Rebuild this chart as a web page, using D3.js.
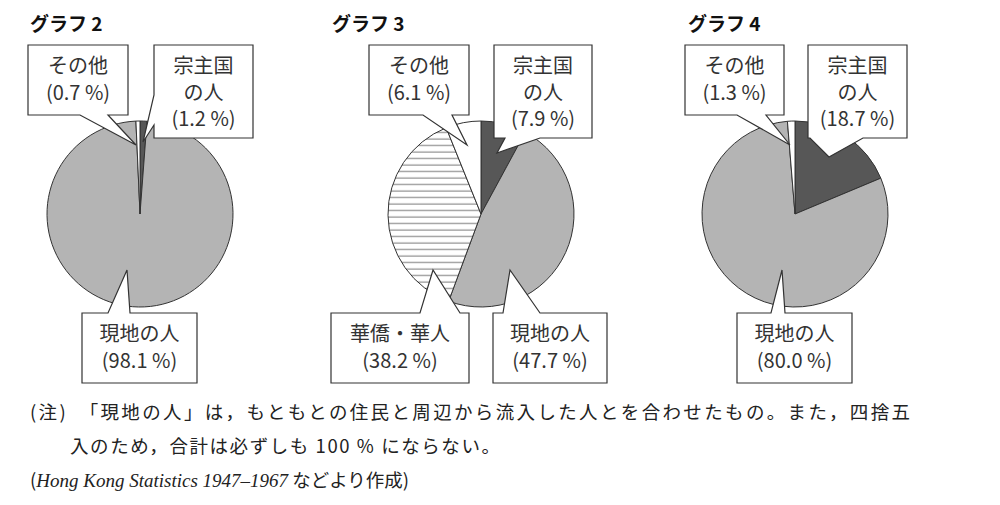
<!DOCTYPE html>
<html><head><meta charset="utf-8">
<script src="https://d3js.org/d3.v7.min.js"></script>
<style>body{margin:0;background:#fff}</style>
</head><body><svg id="c" width="1000" height="505"></svg>
<script>
// ---------- data
var titles = ['グラフ 2', 'グラフ 3', 'グラフ 4'];
var groups = ['宗主国の人', '現地の人', '華僑・華人', 'その他'];
var values2 = [1.2, 98.1, 0, 0.7];
var values3 = [7.9, 47.7, 38.2, 6.1];
var values4 = [18.7, 80.0, 0, 1.3];
var noteLines = [
  '(注)\u3000「現地の人」は，もともとの住民と周辺から流入した人とを合わせたもの。また，四捨五',
  '入のため，合計は必ずしも 100 % にならない。'
];

// ---------- layout
var svg = d3.select('#c');
var jp = '"Noto Sans CJK JP", sans-serif';
var fills = ['#575757', '#b4b4b4', 'url(#stripes)', '#ffffff'];

var pat = svg.append('defs').append('pattern')
  .attr('id', 'stripes').attr('patternUnits', 'userSpaceOnUse')
  .attr('width', 8).attr('height', 6.5);
pat.append('rect').attr('width', 8).attr('height', 6.5).attr('fill', '#fff');
pat.append('line').attr('x1', 0).attr('x2', 8).attr('y1', 3).attr('y2', 3)
  .attr('stroke', '#777').attr('stroke-width', 1);

var charts = [
  { values: values2, cx: 140, cy: 214, tx: 30,
    calls: [
      { g: 3, box: [28, 45, 128, 115], side: 'bottom', b: [80, 108], tip: [136, 145], lines: ['その他', '(0.7 %)'] },
      { g: 0, box: [154, 45, 253, 138], side: 'left', b: [95, 125], tip: [143, 142], lines: ['宗主国', 'の人', '(1.2 %)'] },
      { g: 1, box: [82, 313, 197, 383], side: 'top', b: [108, 130], tip: [127, 270], lines: ['現地の人', '(98.1 %)'] }
    ] },
  { values: values3, cx: 481, cy: 214, tx: 332,
    calls: [
      { g: 3, box: [369, 45, 469, 115], side: 'bottom', b: [423, 452], tip: [467, 145], lines: ['その他', '(6.1 %)'] },
      { g: 0, box: [494, 45, 592, 138], side: 'bottom', b: [505, 540], tip: [497, 153], lines: ['宗主国', 'の人', '(7.9 %)'] },
      { g: 2, box: [331, 313, 469, 383], side: 'top', b: [420, 460], tip: [433, 270], lines: ['華僑・華人', '(38.2 %)'] },
      { g: 1, box: [493, 313, 607, 383], side: 'top', b: [503, 540], tip: [510, 270], lines: ['現地の人', '(47.7 %)'] }
    ] },
  { values: values4, cx: 795, cy: 214, tx: 688,
    calls: [
      { g: 3, box: [685, 45, 784, 115], side: 'bottom', b: [737, 766], tip: [790, 145], lines: ['その他', '(1.3 %)'] },
      { g: 0, box: [808, 45, 907, 138], side: 'bottom', b: [810, 863], tip: [829, 157], lines: ['宗主国', 'の人', '(18.7 %)'] },
      { g: 1, box: [737, 313, 852, 383], side: 'top', b: [771, 785], tip: [782, 270], lines: ['現地の人', '(80.0 %)'] }
    ] }
];

var radius = 93;
var pie = d3.pie().sort(null).value(function(d) { return d; });
var arc = d3.arc().innerRadius(0).outerRadius(radius);

function calloutPath(c) {
  var x0 = c.box[0], y0 = c.box[1], x1 = c.box[2], y1 = c.box[3];
  var p;
  if (c.side === 'top') {
    p = [[x0, y0], [c.b[0], y0], c.tip, [c.b[1], y0], [x1, y0], [x1, y1], [x0, y1]];
  } else if (c.side === 'bottom') {
    p = [[x0, y0], [x1, y0], [x1, y1], [c.b[1], y1], c.tip, [c.b[0], y1], [x0, y1]];
  } else {
    p = [[x0, y0], [x1, y0], [x1, y1], [x0, y1], [x0, c.b[1]], c.tip, [x0, c.b[0]]];
  }
  return 'M' + p.join('L') + 'Z';
}

charts.forEach(function(ch, i) {
  svg.append('text').attr('x', ch.tx).attr('y', 31)
    .attr('font-family', jp).attr('font-weight', 'bold').attr('font-size', 19)
    .attr('fill', '#111').text(titles[i]);

  var g = svg.append('g').attr('transform', 'translate(' + ch.cx + ',' + ch.cy + ')');
  g.selectAll('path').data(pie(ch.values).filter(function(d) { return d.value > 0; }))
    .enter().append('path')
    .attr('d', arc)
    .attr('fill', function(d) { return fills[d.index]; })
    .attr('stroke', '#333').attr('stroke-width', 1).attr('stroke-linejoin', 'round');

  ch.calls.forEach(function(c) {
    svg.append('path').attr('d', calloutPath(c))
      .attr('fill', '#fff').attr('stroke', '#333').attr('stroke-width', 1.2);
    var mx = (c.box[0] + c.box[2]) / 2;
    c.lines.forEach(function(t, k) {
      svg.append('text').attr('x', mx).attr('y', c.box[1] + 28 + k * 26.5)
        .attr('text-anchor', 'middle').attr('font-family', jp)
        .attr('font-size', 20).attr('fill', '#333').text(t);
    });
  });
});

// ---------- note
var note = svg.append('g').attr('font-family', jp).attr('font-size', 18.5).attr('fill', '#222');
note.append('text').attr('x', 30).attr('y', 419).attr('textLength', 880)
  .attr('lengthAdjust', 'spacing').text(noteLines[0]);
note.append('text').attr('x', 70).attr('y', 453).attr('textLength', 430)
  .attr('lengthAdjust', 'spacing').text(noteLines[1]);
var src = note.append('text').attr('x', 30).attr('y', 487);
src.append('tspan').text('(');
src.append('tspan').attr('font-family', '"Liberation Serif", serif').attr('font-style', 'italic')
  .attr('font-size', 19).text('Hong Kong Statistics 1947–1967');
src.append('tspan').text(' などより作成)');
</script>
</body></html>
